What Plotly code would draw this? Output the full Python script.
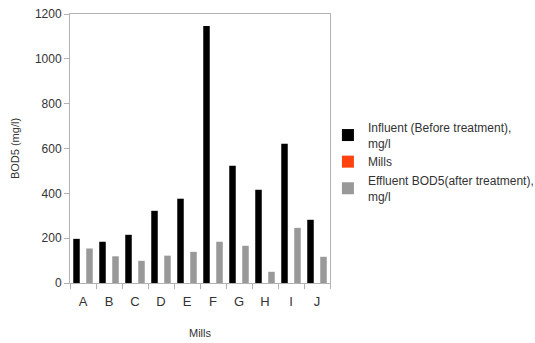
import plotly.graph_objects as go

mills = ["A", "B", "C", "D", "E", "F", "G", "H", "I", "J"]
influent = [197, 184, 215, 322, 376, 1147, 523, 416, 621, 282]
mills_series = [None] * len(mills)
effluent = [154, 119, 99, 122, 139, 184, 166, 50, 246, 117]

FONT = "Liberation Sans Narrow, Liberation Sans, Arial, sans-serif"
AXIS = "#b3b3b3"

fig = go.Figure()
fig.add_trace(go.Bar(x=mills, y=influent, name="Influent (Before treatment),<br>mg/l",
                     marker=dict(color="#000000", line=dict(width=0))))
fig.add_trace(go.Bar(x=mills, y=mills_series, name="Mills",
                     marker=dict(color="#ff420e", line=dict(width=0))))
fig.add_trace(go.Bar(x=mills, y=effluent, name="Effluent BOD5(after treatment),<br>mg/l",
                     marker=dict(color="#999999", line=dict(width=0))))

fig.update_layout(
    width=535, height=343,
    margin=dict(l=70, r=205, t=14, b=60, autoexpand=False),
    paper_bgcolor="white", plot_bgcolor="white",
    barmode="group", bargap=0.25, bargroupgap=0,
    font=dict(family=FONT, size=12, color="#333333"),
    showlegend=True,
    legend=dict(x=0.992, y=0.45, xanchor="left", yanchor="middle",
                font=dict(family=FONT, size=12, color="#333333"),
                tracegroupgap=2, itemwidth=30, bgcolor="rgba(0,0,0,0)"),
    xaxis=dict(
        title=dict(text="Mills", font=dict(family=FONT, size=11, color="#333333"), standoff=21),
        showline=True, linecolor=AXIS, linewidth=1, mirror=True,
        ticks="outside", ticklen=5, tickcolor=AXIS, tickson="boundaries",
        ticklabelstandoff=6,
        showgrid=False, tickfont=dict(size=13),
    ),
    yaxis=dict(
        title=dict(text="BOD5 (mg/l)", font=dict(family=FONT, size=11, color="#333333"), standoff=13),
        range=[0, 1200], dtick=200,
        showline=True, linecolor=AXIS, linewidth=1, mirror=True,
        ticks="outside", ticklen=5, tickcolor=AXIS,
        showgrid=False, zeroline=False, tickfont=dict(size=12),
    ),
)

fig.write_html("out.html")
